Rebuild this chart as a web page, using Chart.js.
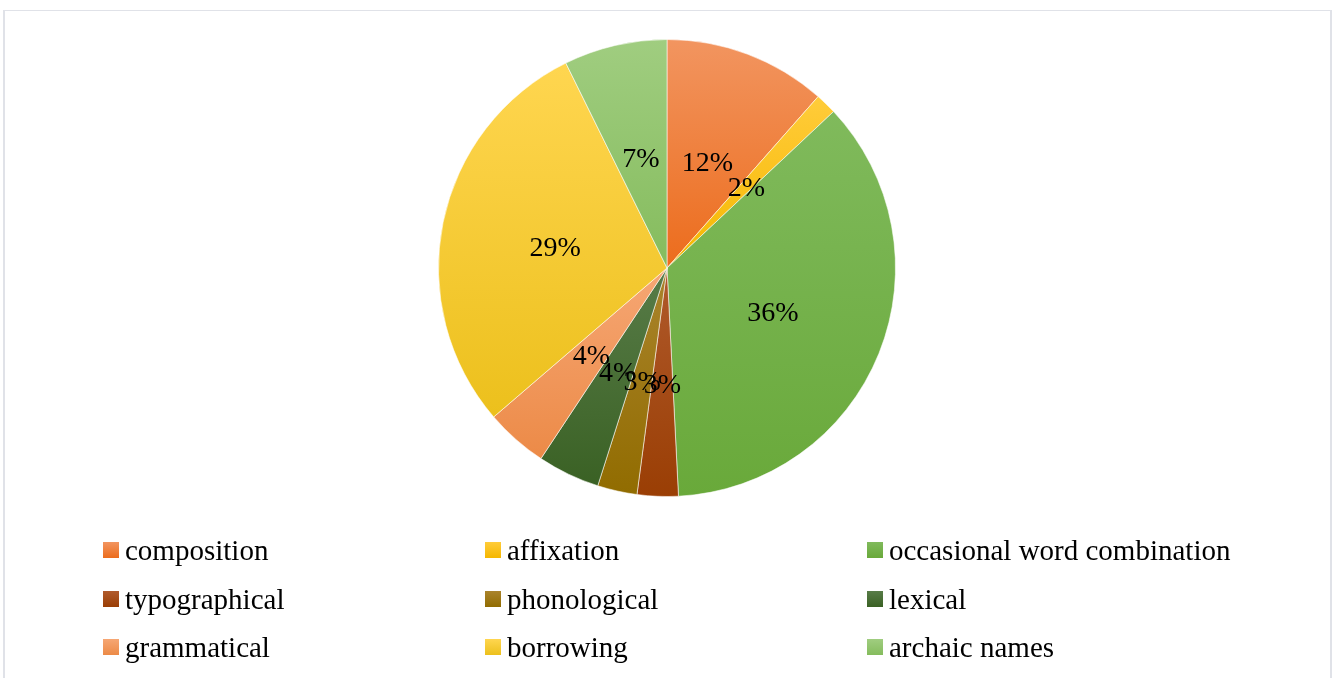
<!DOCTYPE html>
<html>
<head>
<meta charset="utf-8">
<script src="https://cdn.jsdelivr.net/npm/chart.js@4/dist/chart.umd.min.js"></script>
<style>
  html, body { margin: 0; padding: 0; background: #fff; }
  #wrap { position: relative; width: 1332px; height: 678px; overflow: hidden; }
  #frame { position: absolute; left: 3px; top: 10px; width: 1325px; height: 700px;
           border: 2px solid #e0e2e8; border-top-width: 1px; pointer-events: none; }
  canvas { position: absolute; left: 0; top: 0; }
</style>
</head>
<body>
<div id="wrap">
  <canvas id="pieChart" width="1332" height="678"></canvas>
  <div id="frame"></div>
</div>
<script>
const labels = ['composition', 'affixation', 'occasional word combination',
                'typographical', 'phonological', 'lexical',
                'grammatical', 'borrowing', 'archaic names']
const values = [11.5, 1.5, 36.2, 2.9, 2.8, 4.4, 4.4, 29, 7.3]
const topColors    = ['#F29560', '#FFCC3A', '#80BA5C', '#B05A2C', '#AA842C', '#587C48', '#F6A774', '#FFD650', '#A0CD80']
const bottomColors = ['#EC6C1C', '#F5B700', '#69A93A', '#9A3E04', '#916C00', '#3A6124', '#EC8A47', '#ECC01C', '#85BC5D']

const total = values.reduce((a, b) => a + b, 0)

// vertical gradient over each slice's own bounding box
function sliceGradient(c) {
    const i = c.dataIndex
    const chart = c.chart
    const area = chart.chartArea
    if (!area) return bottomColors[i]
    const cx = (area.left + area.right) / 2
    const cy = (area.top + area.bottom) / 2
    const r = Math.min(area.right - area.left, area.bottom - area.top) / 2
    let before = 0
    for (let k = 0; k < i; k++) before += values[k]
    const a0 = -Math.PI / 2 + 2 * Math.PI * before / total
    const a1 = a0 + 2 * Math.PI * values[i] / total
    const ys = [cy, cy + r * Math.sin(a0), cy + r * Math.sin(a1)]
    ;[Math.PI / 2, 3 * Math.PI / 2].forEach(a => {
        if (a > a0 && a < a1) ys.push(cy + r * Math.sin(a))
    })
    const g = chart.ctx.createLinearGradient(0, Math.min(...ys), 0, Math.max(...ys))
    g.addColorStop(0, topColors[i])
    g.addColorStop(1, bottomColors[i])
    return g
}

const percentLabels = {
    id: 'percentLabels',
    afterDatasetsDraw(chart) {
        const ctx = chart.ctx
        const meta = chart.getDatasetMeta(0)
        ctx.save()
        ctx.font = '28px "Liberation Serif", "Times New Roman", serif'
        ctx.fillStyle = '#000'
        ctx.textAlign = 'center'
        ctx.textBaseline = 'middle'
        meta.data.forEach((arc, i) => {
            const p = arc.tooltipPosition()
            ctx.fillText(Math.round(values[i] / total * 100) + '%', p.x, p.y + 3)
        })
        ctx.restore()
    }
}

const gridLegend = {
    id: 'gridLegend',
    afterDraw(chart) {
        const ctx = chart.ctx
        const colX = [103, 485, 867]
        const rowY = [560, 609, 657]
        ctx.save()
        ctx.font = '29px "Liberation Serif", "Times New Roman", serif'
        ctx.textBaseline = 'alphabetic'
        labels.forEach((lab, i) => {
            const x = colX[i % 3]
            const y = rowY[Math.floor(i / 3)]
            const g = ctx.createLinearGradient(0, y - 18, 0, y - 2)
            g.addColorStop(0, topColors[i])
            g.addColorStop(1, bottomColors[i])
            ctx.fillStyle = g
            ctx.fillRect(x, y - 18, 16, 16)
            ctx.fillStyle = '#000'
            ctx.fillText(lab, x + 22, y)
        })
        ctx.restore()
    }
}

new Chart(document.getElementById('pieChart'), {
    type: 'pie',
    data: {
        labels: labels,
        datasets: [{
            data: values,
            backgroundColor: sliceGradient,
            borderColor: 'rgba(255,255,255,0.55)',
            borderWidth: 1
        }]
    },
    options: {
        responsive: false,
        animation: false,
        devicePixelRatio: 1,
        layout: {
            padding: { top: 39, bottom: 181, left: 438, right: 436 }
        },
        plugins: {
            legend: { display: false },
            tooltip: { enabled: false }
        }
    },
    plugins: [percentLabels, gridLegend]
})
</script>
</body>
</html>
